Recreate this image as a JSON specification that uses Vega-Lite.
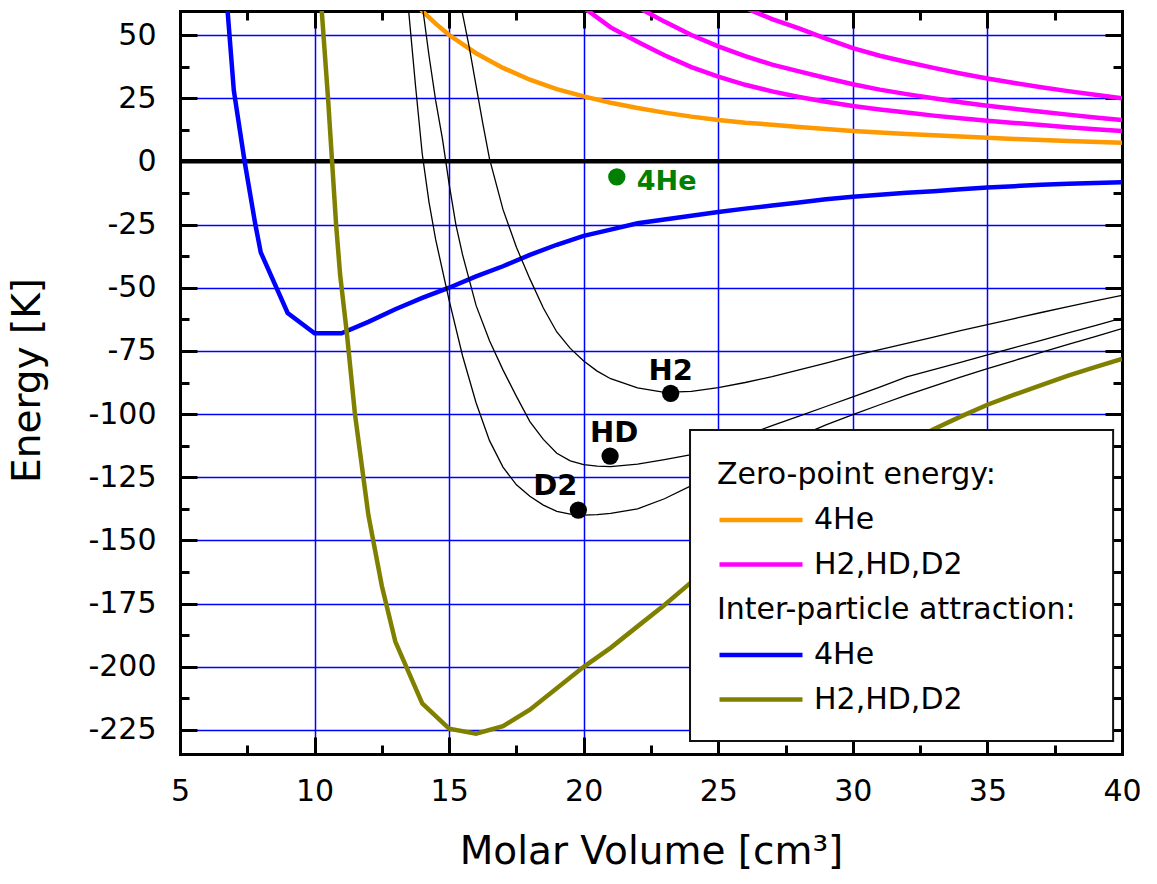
{
  "$schema": "https://vega.github.io/schema/vega-lite/v6.json",
  "width": 942,
  "height": 743,
  "autosize": {"type": "none"},
  "padding": {"left": 180, "top": 11, "right": 35, "bottom": 130},
  "background": "white",
  "config": {
    "font": "DejaVu Sans",
    "view": {"stroke": null},
    "axis": {
      "labelFont": "DejaVu Sans", "labelFontSize": 30, "labelColor": "black",
      "titleFont": "DejaVu Sans", "titleFontSize": 36, "titleFontWeight": "normal", "titleColor": "black",
      "tickColor": "black", "tickWidth": 3,
      "domainColor": "black", "domainWidth": 3, "domainCap": "square",
      "gridColor": "#0000ff", "gridWidth": 1.5, "gridOpacity": 1,
      "labelFlush": false, "labelOverlap": false
    },
    "legend": {
      "orient": "none", "padding": 0,
      "symbolType": "stroke", "symbolSize": 6889, "symbolStrokeWidth": 4.5,
      "clipHeight": 40,
      "labelOffset": 9, "rowPadding": 4.6, "titlePadding": 10,
      "labelFont": "DejaVu Sans", "labelFontSize": 30, "labelColor": "black", "labelLimit": 1000,
      "titleFont": "DejaVu Sans", "titleFontSize": 30, "titleFontWeight": "normal", "titleColor": "black", "titleLimit": 1000
    }
  },
  "datasets": {
    "zpe": [
      {"kind": "4He", "curve": "4He", "V": 13.85, "E": 62}, {"kind": "4He", "curve": "4He", "V": 14, "E": 59.5},
      {"kind": "4He", "curve": "4He", "V": 14.5, "E": 54.5}, {"kind": "4He", "curve": "4He", "V": 15, "E": 50},
      {"kind": "4He", "curve": "4He", "V": 16, "E": 42.8}, {"kind": "4He", "curve": "4He", "V": 17, "E": 37},
      {"kind": "4He", "curve": "4He", "V": 18, "E": 32.3}, {"kind": "4He", "curve": "4He", "V": 19, "E": 28.6},
      {"kind": "4He", "curve": "4He", "V": 20, "E": 25.7}, {"kind": "4He", "curve": "4He", "V": 21, "E": 23.2},
      {"kind": "4He", "curve": "4He", "V": 22, "E": 21.1}, {"kind": "4He", "curve": "4He", "V": 23, "E": 19.3},
      {"kind": "4He", "curve": "4He", "V": 24, "E": 17.7}, {"kind": "4He", "curve": "4He", "V": 25, "E": 16.4},
      {"kind": "4He", "curve": "4He", "V": 26, "E": 15.3}, {"kind": "4He", "curve": "4He", "V": 27, "E": 14.5},
      {"kind": "4He", "curve": "4He", "V": 28, "E": 13.6}, {"kind": "4He", "curve": "4He", "V": 29, "E": 12.8},
      {"kind": "4He", "curve": "4He", "V": 30, "E": 12.0}, {"kind": "4He", "curve": "4He", "V": 32, "E": 10.8},
      {"kind": "4He", "curve": "4He", "V": 34, "E": 9.8}, {"kind": "4He", "curve": "4He", "V": 35, "E": 9.3},
      {"kind": "4He", "curve": "4He", "V": 36, "E": 8.9}, {"kind": "4He", "curve": "4He", "V": 38, "E": 8.1},
      {"kind": "4He", "curve": "4He", "V": 40, "E": 7.4},

      {"kind": "H2,HD,D2", "curve": "H2", "V": 25.9, "E": 61.5}, {"kind": "H2,HD,D2", "curve": "H2", "V": 26.18, "E": 59.9},
      {"kind": "H2,HD,D2", "curve": "H2", "V": 27, "E": 56.3}, {"kind": "H2,HD,D2", "curve": "H2", "V": 28, "E": 52.6},
      {"kind": "H2,HD,D2", "curve": "H2", "V": 29, "E": 48.6}, {"kind": "H2,HD,D2", "curve": "H2", "V": 30, "E": 44.8},
      {"kind": "H2,HD,D2", "curve": "H2", "V": 31, "E": 41.8}, {"kind": "H2,HD,D2", "curve": "H2", "V": 32, "E": 39.3},
      {"kind": "H2,HD,D2", "curve": "H2", "V": 33, "E": 37}, {"kind": "H2,HD,D2", "curve": "H2", "V": 34, "E": 34.8},
      {"kind": "H2,HD,D2", "curve": "H2", "V": 35, "E": 32.8}, {"kind": "H2,HD,D2", "curve": "H2", "V": 36, "E": 31},
      {"kind": "H2,HD,D2", "curve": "H2", "V": 37, "E": 29.3}, {"kind": "H2,HD,D2", "curve": "H2", "V": 38, "E": 27.8},
      {"kind": "H2,HD,D2", "curve": "H2", "V": 39, "E": 26.4}, {"kind": "H2,HD,D2", "curve": "H2", "V": 40, "E": 25.0},

      {"kind": "H2,HD,D2", "curve": "HD", "V": 22.0, "E": 61.3}, {"kind": "H2,HD,D2", "curve": "HD", "V": 22.2, "E": 59.9},
      {"kind": "H2,HD,D2", "curve": "HD", "V": 23, "E": 55.3}, {"kind": "H2,HD,D2", "curve": "HD", "V": 24, "E": 50},
      {"kind": "H2,HD,D2", "curve": "HD", "V": 25, "E": 45.5}, {"kind": "H2,HD,D2", "curve": "HD", "V": 26, "E": 41.6},
      {"kind": "H2,HD,D2", "curve": "HD", "V": 27, "E": 38.3}, {"kind": "H2,HD,D2", "curve": "HD", "V": 28, "E": 35.6},
      {"kind": "H2,HD,D2", "curve": "HD", "V": 29, "E": 33}, {"kind": "H2,HD,D2", "curve": "HD", "V": 30, "E": 30.5},
      {"kind": "H2,HD,D2", "curve": "HD", "V": 31, "E": 28.4}, {"kind": "H2,HD,D2", "curve": "HD", "V": 32, "E": 26.6},
      {"kind": "H2,HD,D2", "curve": "HD", "V": 33, "E": 25}, {"kind": "H2,HD,D2", "curve": "HD", "V": 34, "E": 23.4},
      {"kind": "H2,HD,D2", "curve": "HD", "V": 35, "E": 22}, {"kind": "H2,HD,D2", "curve": "HD", "V": 36, "E": 20.8},
      {"kind": "H2,HD,D2", "curve": "HD", "V": 37, "E": 19.6}, {"kind": "H2,HD,D2", "curve": "HD", "V": 38, "E": 18.5},
      {"kind": "H2,HD,D2", "curve": "HD", "V": 39, "E": 17.4}, {"kind": "H2,HD,D2", "curve": "HD", "V": 40, "E": 16.4},

      {"kind": "H2,HD,D2", "curve": "D2", "V": 19.95, "E": 61.3}, {"kind": "H2,HD,D2", "curve": "D2", "V": 20.12, "E": 59.9},
      {"kind": "H2,HD,D2", "curve": "D2", "V": 21, "E": 53}, {"kind": "H2,HD,D2", "curve": "D2", "V": 22, "E": 47.3},
      {"kind": "H2,HD,D2", "curve": "D2", "V": 23, "E": 42}, {"kind": "H2,HD,D2", "curve": "D2", "V": 24, "E": 37.3},
      {"kind": "H2,HD,D2", "curve": "D2", "V": 25, "E": 33.5}, {"kind": "H2,HD,D2", "curve": "D2", "V": 26, "E": 30.3},
      {"kind": "H2,HD,D2", "curve": "D2", "V": 27, "E": 27.7}, {"kind": "H2,HD,D2", "curve": "D2", "V": 28, "E": 25.5},
      {"kind": "H2,HD,D2", "curve": "D2", "V": 29, "E": 23.6}, {"kind": "H2,HD,D2", "curve": "D2", "V": 30, "E": 21.9},
      {"kind": "H2,HD,D2", "curve": "D2", "V": 31, "E": 20.5}, {"kind": "H2,HD,D2", "curve": "D2", "V": 32, "E": 19.3},
      {"kind": "H2,HD,D2", "curve": "D2", "V": 33, "E": 18.1}, {"kind": "H2,HD,D2", "curve": "D2", "V": 34, "E": 17.1},
      {"kind": "H2,HD,D2", "curve": "D2", "V": 35, "E": 16.1}, {"kind": "H2,HD,D2", "curve": "D2", "V": 36, "E": 15.2},
      {"kind": "H2,HD,D2", "curve": "D2", "V": 37, "E": 14.4}, {"kind": "H2,HD,D2", "curve": "D2", "V": 38, "E": 13.5},
      {"kind": "H2,HD,D2", "curve": "D2", "V": 39, "E": 12.7}, {"kind": "H2,HD,D2", "curve": "D2", "V": 40, "E": 12.0}
    ],
    "attr": [
      {"kind": "4He", "V": 6.75, "E": 62}, {"kind": "4He", "V": 7.0, "E": 28}, {"kind": "4He", "V": 7.4, "E": 0},
      {"kind": "4He", "V": 7.8, "E": -25}, {"kind": "4He", "V": 8.0, "E": -36}, {"kind": "4He", "V": 9, "E": -60},
      {"kind": "4He", "V": 10, "E": -68}, {"kind": "4He", "V": 11, "E": -68}, {"kind": "4He", "V": 12, "E": -63.5},
      {"kind": "4He", "V": 13, "E": -58.5}, {"kind": "4He", "V": 14, "E": -54}, {"kind": "4He", "V": 15, "E": -50},
      {"kind": "4He", "V": 16, "E": -45.5}, {"kind": "4He", "V": 17, "E": -41.5}, {"kind": "4He", "V": 18, "E": -37},
      {"kind": "4He", "V": 19, "E": -33}, {"kind": "4He", "V": 20, "E": -29.5}, {"kind": "4He", "V": 21, "E": -27},
      {"kind": "4He", "V": 22, "E": -24.5}, {"kind": "4He", "V": 23, "E": -23}, {"kind": "4He", "V": 24, "E": -21.5},
      {"kind": "4He", "V": 25, "E": -20}, {"kind": "4He", "V": 26, "E": -18.7}, {"kind": "4He", "V": 27, "E": -17.5},
      {"kind": "4He", "V": 28, "E": -16.3}, {"kind": "4He", "V": 29, "E": -15}, {"kind": "4He", "V": 30, "E": -14},
      {"kind": "4He", "V": 31, "E": -13.2}, {"kind": "4He", "V": 32, "E": -12.4}, {"kind": "4He", "V": 33, "E": -11.8},
      {"kind": "4He", "V": 34, "E": -11}, {"kind": "4He", "V": 35, "E": -10.3}, {"kind": "4He", "V": 36, "E": -9.8},
      {"kind": "4He", "V": 37, "E": -9.3}, {"kind": "4He", "V": 38, "E": -8.9}, {"kind": "4He", "V": 39, "E": -8.6},
      {"kind": "4He", "V": 40, "E": -8.3},

      {"kind": "H2,HD,D2", "V": 10.25, "E": 62}, {"kind": "H2,HD,D2", "V": 10.5, "E": 25}, {"kind": "H2,HD,D2", "V": 10.65, "E": 0},
      {"kind": "H2,HD,D2", "V": 10.8, "E": -25}, {"kind": "H2,HD,D2", "V": 10.95, "E": -45}, {"kind": "H2,HD,D2", "V": 11.2, "E": -68},
      {"kind": "H2,HD,D2", "V": 11.5, "E": -100}, {"kind": "H2,HD,D2", "V": 12, "E": -140}, {"kind": "H2,HD,D2", "V": 12.5, "E": -168},
      {"kind": "H2,HD,D2", "V": 13, "E": -190}, {"kind": "H2,HD,D2", "V": 14, "E": -214.5}, {"kind": "H2,HD,D2", "V": 15, "E": -224.5},
      {"kind": "H2,HD,D2", "V": 16, "E": -226.5}, {"kind": "H2,HD,D2", "V": 17, "E": -223.5}, {"kind": "H2,HD,D2", "V": 18, "E": -217},
      {"kind": "H2,HD,D2", "V": 19, "E": -208.5}, {"kind": "H2,HD,D2", "V": 20, "E": -200}, {"kind": "H2,HD,D2", "V": 21, "E": -192.5},
      {"kind": "H2,HD,D2", "V": 22, "E": -184}, {"kind": "H2,HD,D2", "V": 23, "E": -175.5}, {"kind": "H2,HD,D2", "V": 24, "E": -166.5},
      {"kind": "H2,HD,D2", "V": 25, "E": -158}, {"kind": "H2,HD,D2", "V": 26, "E": -150.5}, {"kind": "H2,HD,D2", "V": 27, "E": -143},
      {"kind": "H2,HD,D2", "V": 28, "E": -136}, {"kind": "H2,HD,D2", "V": 29, "E": -129}, {"kind": "H2,HD,D2", "V": 30, "E": -123},
      {"kind": "H2,HD,D2", "V": 31, "E": -117}, {"kind": "H2,HD,D2", "V": 32, "E": -111.5}, {"kind": "H2,HD,D2", "V": 33, "E": -106},
      {"kind": "H2,HD,D2", "V": 34, "E": -101}, {"kind": "H2,HD,D2", "V": 35, "E": -96.3}, {"kind": "H2,HD,D2", "V": 36, "E": -92.3},
      {"kind": "H2,HD,D2", "V": 37, "E": -88.5}, {"kind": "H2,HD,D2", "V": 38, "E": -84.8}, {"kind": "H2,HD,D2", "V": 39, "E": -81.4},
      {"kind": "H2,HD,D2", "V": 40, "E": -78.2}
    ],
    "total": [
      {"curve": "H2", "V": 15.42, "E": 62}, {"curve": "H2", "V": 15.47, "E": 59.9}, {"curve": "H2", "V": 15.75, "E": 45},
      {"curve": "H2", "V": 16, "E": 30}, {"curve": "H2", "V": 16.25, "E": 15}, {"curve": "H2", "V": 16.5, "E": 1},
      {"curve": "H2", "V": 17, "E": -19}, {"curve": "H2", "V": 17.5, "E": -34}, {"curve": "H2", "V": 18, "E": -46.5},
      {"curve": "H2", "V": 18.5, "E": -58}, {"curve": "H2", "V": 19, "E": -67.5}, {"curve": "H2", "V": 19.5, "E": -74},
      {"curve": "H2", "V": 20, "E": -79}, {"curve": "H2", "V": 20.5, "E": -83}, {"curve": "H2", "V": 21, "E": -86},
      {"curve": "H2", "V": 22, "E": -89.6}, {"curve": "H2", "V": 23, "E": -91.4}, {"curve": "H2", "V": 24, "E": -91},
      {"curve": "H2", "V": 25, "E": -89.5}, {"curve": "H2", "V": 26, "E": -87.5}, {"curve": "H2", "V": 27, "E": -85.2},
      {"curve": "H2", "V": 28, "E": -82.5}, {"curve": "H2", "V": 29, "E": -79.8}, {"curve": "H2", "V": 30, "E": -77},
      {"curve": "H2", "V": 31, "E": -74.5}, {"curve": "H2", "V": 32, "E": -72}, {"curve": "H2", "V": 33, "E": -69.5},
      {"curve": "H2", "V": 34, "E": -67}, {"curve": "H2", "V": 35, "E": -64.6}, {"curve": "H2", "V": 36, "E": -62.2},
      {"curve": "H2", "V": 37, "E": -59.8}, {"curve": "H2", "V": 38, "E": -57.5}, {"curve": "H2", "V": 39, "E": -55.2},
      {"curve": "H2", "V": 40, "E": -53},

      {"curve": "HD", "V": 14.0, "E": 62}, {"curve": "HD", "V": 14.25, "E": 42}, {"curve": "HD", "V": 14.5, "E": 24},
      {"curve": "HD", "V": 14.75, "E": 9}, {"curve": "HD", "V": 15, "E": -9}, {"curve": "HD", "V": 15.25, "E": -25},
      {"curve": "HD", "V": 15.5, "E": -37}, {"curve": "HD", "V": 16, "E": -57}, {"curve": "HD", "V": 16.5, "E": -71},
      {"curve": "HD", "V": 17, "E": -82.5}, {"curve": "HD", "V": 17.5, "E": -93}, {"curve": "HD", "V": 18, "E": -103},
      {"curve": "HD", "V": 18.5, "E": -110}, {"curve": "HD", "V": 19, "E": -115.5}, {"curve": "HD", "V": 19.5, "E": -118.5},
      {"curve": "HD", "V": 20, "E": -120}, {"curve": "HD", "V": 20.5, "E": -120.6}, {"curve": "HD", "V": 21, "E": -120.8},
      {"curve": "HD", "V": 22, "E": -119.8}, {"curve": "HD", "V": 23, "E": -118}, {"curve": "HD", "V": 24, "E": -116},
      {"curve": "HD", "V": 25, "E": -112.2}, {"curve": "HD", "V": 26, "E": -108.4}, {"curve": "HD", "V": 27, "E": -104.6},
      {"curve": "HD", "V": 28, "E": -100.8}, {"curve": "HD", "V": 29, "E": -97}, {"curve": "HD", "V": 30, "E": -93.2},
      {"curve": "HD", "V": 31, "E": -89.3}, {"curve": "HD", "V": 32, "E": -85.3}, {"curve": "HD", "V": 33, "E": -82.4},
      {"curve": "HD", "V": 34, "E": -79.5}, {"curve": "HD", "V": 35, "E": -76.6}, {"curve": "HD", "V": 36, "E": -73.7},
      {"curve": "HD", "V": 37, "E": -70.8}, {"curve": "HD", "V": 38, "E": -67.9}, {"curve": "HD", "V": 39, "E": -65},
      {"curve": "HD", "V": 40, "E": -62},

      {"curve": "D2", "V": 13.4, "E": 62}, {"curve": "D2", "V": 13.5, "E": 59}, {"curve": "D2", "V": 13.75, "E": 30},
      {"curve": "D2", "V": 14.0, "E": 3}, {"curve": "D2", "V": 14.25, "E": -16}, {"curve": "D2", "V": 14.5, "E": -31},
      {"curve": "D2", "V": 15, "E": -55}, {"curve": "D2", "V": 15.5, "E": -77}, {"curve": "D2", "V": 16, "E": -95.5},
      {"curve": "D2", "V": 16.5, "E": -110.5}, {"curve": "D2", "V": 17, "E": -121}, {"curve": "D2", "V": 17.5, "E": -128},
      {"curve": "D2", "V": 18, "E": -132.5}, {"curve": "D2", "V": 18.5, "E": -136}, {"curve": "D2", "V": 19, "E": -138.5},
      {"curve": "D2", "V": 19.5, "E": -139.6}, {"curve": "D2", "V": 20, "E": -140}, {"curve": "D2", "V": 20.5, "E": -139.8},
      {"curve": "D2", "V": 21, "E": -139.3}, {"curve": "D2", "V": 22, "E": -137.5}, {"curve": "D2", "V": 23, "E": -133.5},
      {"curve": "D2", "V": 24, "E": -128.3}, {"curve": "D2", "V": 25, "E": -123.4}, {"curve": "D2", "V": 26, "E": -118.5},
      {"curve": "D2", "V": 27, "E": -113.6}, {"curve": "D2", "V": 28, "E": -108.8}, {"curve": "D2", "V": 29, "E": -104.3},
      {"curve": "D2", "V": 30, "E": -100.2}, {"curve": "D2", "V": 31, "E": -96.3}, {"curve": "D2", "V": 32, "E": -92.5},
      {"curve": "D2", "V": 33, "E": -88.9}, {"curve": "D2", "V": 34, "E": -85.4}, {"curve": "D2", "V": 35, "E": -82.0},
      {"curve": "D2", "V": 36, "E": -78.8}, {"curve": "D2", "V": 37, "E": -75.6}, {"curve": "D2", "V": 38, "E": -72.4},
      {"curve": "D2", "V": 39, "E": -69.3}, {"curve": "D2", "V": 40, "E": -66.2}
    ],
    "minima": [
      {"label": "H2", "V": 23.23, "E": -91.8},
      {"label": "HD", "V": 20.98, "E": -116.6},
      {"label": "D2", "V": 19.8, "E": -138},
      {"label": "4He", "V": 21.23, "E": -6.1}
    ]
  },
  "layer": [
    {
      "data": {"values": [{}]},
      "mark": {"type": "rule", "color": "black", "strokeWidth": 4.5},
      "encoding": {
        "y": {"datum": 0, "type": "quantitative", "scale": {"domain": [-234.5, 59.5], "nice": false, "zero": false}, "axis": null}
      }
    },
    {
      "data": {"name": "zpe"},
      "mark": {"type": "line", "strokeWidth": 4.5, "clip": true},
      "encoding": {
        "x": {
          "field": "V", "type": "quantitative",
          "scale": {"domain": [5, 40], "nice": false, "zero": false},
          "axis": {
            "orient": "bottom", "values": [5, 10, 15, 20, 25, 30, 35, 40], "grid": true,
            "tickSize": -17, "labelPadding": 39, "domain": true,
            "title": "Molar Volume [cm³]", "titleX": 471, "titleY": 109,
            "titleAlign": "center", "titleBaseline": "alphabetic", "titleFontSize": 39
          }
        },
        "y": {
          "field": "E", "type": "quantitative",
          "scale": {"domain": [-234.5, 59.5], "nice": false, "zero": false},
          "axis": {
            "orient": "left", "values": [-225, -200, -175, -150, -125, -100, -75, -50, -25, 0, 25, 50], "grid": true,
            "tickSize": -17, "labelPadding": 41, "domain": true,
            "labelExpr": "'' + datum.value",
            "title": "Energy [K]", "titleX": -141, "titleY": 369, "titleAngle": -90,
            "titleAlign": "center", "titleBaseline": "alphabetic", "titleFontSize": 39
          }
        },
        "color": {
          "field": "kind", "type": "nominal",
          "scale": {"domain": ["4He", "H2,HD,D2"], "range": ["#ff9900", "#ff00ff"]},
          "legend": {"title": "Zero-point energy:", "legendX": 537, "legendY": 449, "clipHeight": 40, "rowPadding": 4.6, "titlePadding": 10}
        },
        "detail": {"field": "curve"}
      }
    },
    {
      "data": {"name": "attr"},
      "mark": {"type": "line", "strokeWidth": 4.5, "clip": true},
      "encoding": {
        "x": {
          "field": "V", "type": "quantitative",
          "scale": {"domain": [5, 40], "nice": false, "zero": false},
          "axis": {"orient": "bottom", "values": [7.5, 12.5, 17.5, 22.5, 27.5, 32.5, 37.5], "tickSize": -9, "labels": false, "domain": false, "grid": false, "title": null}
        },
        "y": {
          "field": "E", "type": "quantitative",
          "scale": {"domain": [-234.5, 59.5], "nice": false, "zero": false},
          "axis": {"orient": "left", "values": [-212.5, -187.5, -162.5, -137.5, -112.5, -87.5, -62.5, -37.5, -12.5, 12.5, 37.5], "tickSize": -9, "labels": false, "domain": false, "grid": false, "title": null}
        },
        "color": {
          "field": "kind", "type": "nominal",
          "scale": {"domain": ["4He", "H2,HD,D2"], "range": ["#0000ff", "#808000"]},
          "legend": {"title": "Inter-particle attraction:", "legendX": 537, "legendY": 584, "clipHeight": 40, "rowPadding": 4.6, "titlePadding": 10}
        }
      }
    },
    {
      "data": {"name": "total"},
      "mark": {"type": "line", "strokeWidth": 1.3, "color": "black", "clip": true},
      "encoding": {
        "x": {
          "field": "V", "type": "quantitative",
          "scale": {"domain": [5, 40], "nice": false, "zero": false},
          "axis": {"orient": "top", "values": [5, 10, 15, 20, 25, 30, 35, 40], "tickSize": -17, "labels": false, "domain": true, "grid": false, "title": null}
        },
        "y": {
          "field": "E", "type": "quantitative",
          "scale": {"domain": [-234.5, 59.5], "nice": false, "zero": false},
          "axis": {"orient": "right", "values": [-225, -200, -175, -150, -125, -100, -75, -50, -25, 0, 25, 50], "tickSize": -17, "labels": false, "domain": true, "grid": false, "title": null}
        },
        "detail": {"field": "curve"}
      }
    },
    {
      "data": {"name": "minima"},
      "mark": {"type": "point", "filled": true, "opacity": 1, "size": 300},
      "encoding": {
        "x": {
          "field": "V", "type": "quantitative",
          "scale": {"domain": [5, 40], "nice": false, "zero": false},
          "axis": {"orient": "top", "values": [7.5, 12.5, 17.5, 22.5, 27.5, 32.5, 37.5], "tickSize": -9, "labels": false, "domain": false, "grid": false, "title": null}
        },
        "y": {
          "field": "E", "type": "quantitative",
          "scale": {"domain": [-234.5, 59.5], "nice": false, "zero": false},
          "axis": {"orient": "right", "values": [-212.5, -187.5, -162.5, -137.5, -112.5, -87.5, -62.5, -37.5, -12.5, 12.5, 37.5], "tickSize": -9, "labels": false, "domain": false, "grid": false, "title": null}
        },
        "color": {"condition": {"test": "datum.label === '4He'", "value": "#008000"}, "value": "black"}
      }
    },
    {
      "data": {"name": "minima"},
      "transform": [{"filter": "datum.label === 'H2'"}],
      "mark": {"type": "text", "fontWeight": "bold", "fontSize": 29, "align": "center", "baseline": "alphabetic", "dy": -13, "color": "black"},
      "encoding": {
        "x": {"field": "V", "type": "quantitative", "scale": {"domain": [5, 40], "nice": false, "zero": false}, "axis": null},
        "y": {"field": "E", "type": "quantitative", "scale": {"domain": [-234.5, 59.5], "nice": false, "zero": false}, "axis": null},
        "text": {"field": "label"}
      }
    },
    {
      "data": {"name": "minima"},
      "transform": [{"filter": "datum.label === 'HD'"}],
      "mark": {"type": "text", "fontWeight": "bold", "fontSize": 29, "align": "center", "baseline": "alphabetic", "dx": 4, "dy": -14, "color": "black"},
      "encoding": {
        "x": {"field": "V", "type": "quantitative", "scale": {"domain": [5, 40], "nice": false, "zero": false}, "axis": null},
        "y": {"field": "E", "type": "quantitative", "scale": {"domain": [-234.5, 59.5], "nice": false, "zero": false}, "axis": null},
        "text": {"field": "label"}
      }
    },
    {
      "data": {"name": "minima"},
      "transform": [{"filter": "datum.label === 'D2'"}],
      "mark": {"type": "text", "fontWeight": "bold", "fontSize": 29, "align": "center", "baseline": "alphabetic", "dx": -23, "dy": -15, "color": "black"},
      "encoding": {
        "x": {"field": "V", "type": "quantitative", "scale": {"domain": [5, 40], "nice": false, "zero": false}, "axis": null},
        "y": {"field": "E", "type": "quantitative", "scale": {"domain": [-234.5, 59.5], "nice": false, "zero": false}, "axis": null},
        "text": {"field": "label"}
      }
    },
    {
      "data": {"name": "minima"},
      "transform": [{"filter": "datum.label === '4He'"}],
      "mark": {"type": "text", "fontWeight": "bold", "fontSize": 27, "align": "left", "baseline": "alphabetic", "dx": 20, "dy": 13, "color": "#008000"},
      "encoding": {
        "x": {"field": "V", "type": "quantitative", "scale": {"domain": [5, 40], "nice": false, "zero": false}, "axis": null},
        "y": {"field": "E", "type": "quantitative", "scale": {"domain": [-234.5, 59.5], "nice": false, "zero": false}, "axis": null},
        "text": {"field": "label"}
      }
    },
    {
      "data": {"values": [{}]},
      "mark": {"type": "rect", "fill": "white", "stroke": "#111111", "strokeWidth": 2},
      "encoding": {
        "x": {"datum": 23.95, "type": "quantitative", "scale": {"domain": [5, 40], "nice": false, "zero": false}, "axis": null},
        "x2": {"datum": 39.67},
        "y": {"datum": -106.3, "type": "quantitative", "scale": {"domain": [-234.5, 59.5], "nice": false, "zero": false}, "axis": null},
        "y2": {"datum": -229.4}
      }
    }
  ],
  "resolve": {
    "scale": {"color": "independent"},
    "axis": {"x": "independent", "y": "independent"}
  }
}
